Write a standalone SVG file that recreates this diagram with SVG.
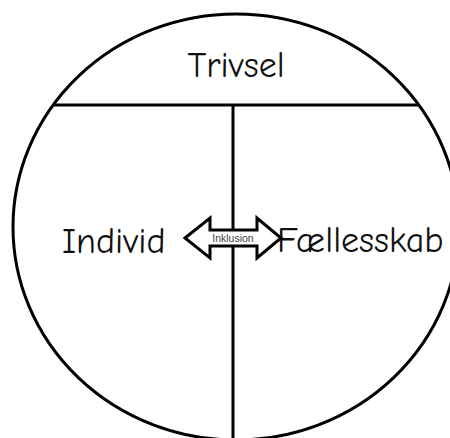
<svg xmlns="http://www.w3.org/2000/svg" width="450" height="438" viewBox="0 0 450 438">
<style>
.ln{fill:none;stroke:#000;stroke-width:3}
.lbl{font-family:"Comic Neue","Liberation Sans",sans-serif;font-size:36px;fill:#111}
.small{font-family:"Liberation Sans",sans-serif;font-size:10.5px;fill:#444}
</style>
<rect width="450" height="438" fill="#fff"/>
<g id="connectors">
<ellipse class="ln" cx="236" cy="227" rx="223" ry="213"/>
<line class="ln" x1="53" y1="105" x2="419" y2="105"/>
<line class="ln" x1="233" y1="105" x2="233" y2="438"/>
</g>
<g id="trivsel"><text class="lbl" x="236" y="77" text-anchor="middle">Trivsel</text></g>
<g id="individ"><text class="lbl" x="62" y="253">Individ</text></g>
<g id="faellesskab"><text class="lbl" x="277" y="252">Fællesskab</text></g>
<g id="inklusion">
<polygon points="185,238 210,218 210,230 257,230 257,218 281,238 257,258 257,246 210,246 210,258" fill="#fff" stroke="#000" stroke-width="3" stroke-linejoin="miter"/>
<text class="small" x="233" y="242" text-anchor="middle">Inklusion</text>
</g>
</svg>
